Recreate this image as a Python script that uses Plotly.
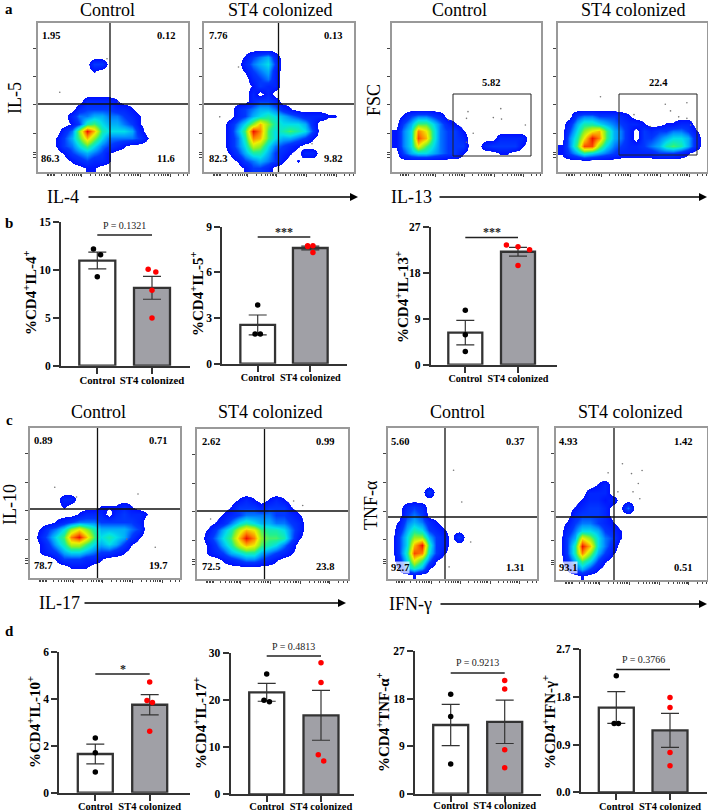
import plotly.graph_objects as go

FONT = "Liberation Serif"
W, H = 708, 812

# ---------- bar chart data ----------
categories = ["Control", "ST4 colonized"]
b1_means, b1_sem = [11.0, 8.15], [0.87, 1.2]
b1_ctrl, b1_st4 = [12.2, 11.6, 9.3], [10.1, 9.8, 7.9, 5.0]
b2_means, b2_sem = [2.55, 7.6], [0.65, 0.12]
b2_ctrl, b2_st4 = [3.85, 1.95, 1.95], [7.75, 7.75, 7.7, 7.3]
b3_means, b3_sem = [6.3, 22.2], [2.4, 0.85]
b3_ctrl, b3_st4 = [10.7, 5.9, 2.6], [23.5, 23.2, 22.6, 19.5]
d1_means, d1_sem = [1.65, 3.75], [0.42, 0.43]
d1_ctrl, d1_st4 = [2.33, 1.7, 0.88], [4.72, 3.93, 3.85, 2.62]
d2_means, d2_sem = [21.7, 16.8], [1.9, 5.3]
d2_ctrl, d2_st4 = [25.6, 20.0, 19.7], [28.0, 23.8, 8.4, 7.1]
d3_means, d3_sem = [13.0, 13.6], [3.9, 4.1]
d3_ctrl, d3_st4 = [18.8, 14.6, 5.6], [21.4, 19.8, 8.3, 4.9]
d4_means, d4_sem = [1.6, 1.17], [0.3, 0.32]
d4_ctrl, d4_st4 = [2.2, 1.3, 1.3], [1.79, 1.6, 0.75, 0.5]

# ---------- flow plot density, hex digit per cell, rows from the top ----------
a1_density = ["", "", "", "", "", "00000003300000000000", "00000001", "", "", "",
              "000000222210", "00000233332210", "00002445544321", "00001378655431000000",
              "000249fc766652", "001358c96444431", "001346864321", "0001345431", "00001232210", "00000011"]
a2_density = ["", "", "", "", "00000134520", "00000245630", "00000134520", "00000023420", "00000013220",
              "00000020200", "00000023320", "00002345542100", "000023567654322211", "0002469c9766652",
              "000258fd8678763", "000247dc8655431", "000246a964321", "000135775321022",
              "00001345431010", "000001332"]
a3_density = ["", "", "", "", "", "", "", "", "", "", "", "", "0134432", "035886421", "146db74331",
              "146ec7433200002222", "146b86433300233331", "0356654331000011", "", ""]
a4_density = ["", "", "", "", "", "", "", "", "", "", "", "", "0034433321", "025776543221001122",
              "0369bc8542032334431", "047bfd8542033456652", "148ee96432234578752",
              "135765432222233321", "", ""]
c1_density = ["", "", "", "", "", "", "", "", "", "000022", "00001000011121", "0000001222023221",
              "000123444333332", "013469b97555543", "02468dfc8676531", "01357aa8656531",
              "0123566543321", "0001333221", "00000111", ""]
c2_density = ["", "", "", "", "", "", "", "", "", "000001210121", "0000133323331", "00012344443321",
              "00124676554432", "01357acb877642", "02468cfd988741", "01357acb87642",
              "0123567754321", "00012344321", "", ""]
c3_density = ["", "", "", "", "", "", "", "", "000003", "", "00232", "00343", "0145421",
              "02576321", "0369953203", "036cf732", "037ed631", "026b841", "015751", "0001"]
c4_density = ["", "", "", "", "", "", "", "0000012", "0000222", "00012212", "0012332004", "0023332",
              "01344321", "024665321", "035b96431", "037fc642", "037d9531", "0258631", "013531", "0001"]

# sparse single events outside the dense areas (column, row)
a1_events = [(9.2, 4.8), (2.9, 9.3), (10.7, 10.6)]
a2_events = [(4.6, 5.9), (2.1, 12.6), (14.4, 16.2)]
a3_events = [(10.2, 11.9), (10, 12.8), (14.6, 11.5), (13.6, 12.7), (14.7, 12.9), (10.9, 14.8), (10, 16), (7.6, 13), (17.9, 13.7)]
a4_events = [(5.7, 9.9), (14.4, 10.9), (17.3, 10.7), (15.1, 11.8), (16.2, 12.6), (17.8, 13.7), (12.4, 13.9), (10.2, 12.3), (17.3, 12.8)]
c1_events = [(3.3, 7.9), (6.2, 9.2), (14.4, 8.8), (16.7, 15.9), (12.9, 14.8)]
c2_events = [(12.8, 9.6), (14, 10.2), (1.8, 12)]
c3_events = [(8.8, 5.6), (9.9, 9.8), (11.1, 15.1), (8.2, 18.4)]
c4_events = [(8.8, 4.7), (10, 6), (11.4, 5.6), (10.9, 7.3), (10.2, 8.4), (11.1, 9.3), (6.9, 5.9), (8.2, 8.4)]

density_scale = [[0, "#ffffff"], [0.05, "#ffffff"], [0.053, "#0010ff"], [0.2, "#0038ff"],
                 [0.3, "#0098ff"], [0.4, "#00e0e8"], [0.5, "#20f090"], [0.6, "#90f020"],
                 [0.73, "#f0f000"], [0.87, "#ff8000"], [1, "#f01000"]]

fig = go.Figure()
layout = dict(width=W, height=H, autosize=False, margin=dict(l=0, r=0, t=0, b=0),
              paper_bgcolor="white", plot_bgcolor="white", showlegend=False,
              font=dict(family=FONT, color="black"), hovermode=False)
annotations, shapes = [], []
axis_n = [0]


def text(px, py, s, size=18, bold=False, angle=0, bg=None):
    annotations.append(dict(x=px / W, y=1 - py / H, xref="paper", yref="paper", showarrow=False,
                            text=f"<b>{s}</b>" if bold else s, textangle=angle, xanchor="center", yanchor="middle",
                            font=dict(family=FONT, size=size, color="black"), bgcolor=bg, borderpad=0))


def arrow(x0, x1, py):
    annotations.append(dict(x=x1 / W, y=1 - py / H, ax=x0 - x1, ay=0, xref="paper", yref="paper",
                            axref="pixel", ayref="pixel", text="", showarrow=True, arrowhead=2,
                            arrowsize=1, arrowwidth=1.6, arrowcolor="black"))


def new_axes(x0, x1, y0, y1):
    axis_n[0] += 1
    n = axis_n[0]
    sfx = "" if n == 1 else str(n)
    xa, ya = f"xaxis{sfx}", f"yaxis{sfx}"
    layout[xa] = dict(domain=[x0 / W, x1 / W], anchor=f"y{sfx}", automargin=False)
    layout[ya] = dict(domain=[1 - y1 / H, 1 - y0 / H], anchor=f"x{sfx}", automargin=False)
    return f"x{sfx}", f"y{sfx}", xa, ya


x_major = [5.8, 9.7, 13.7, 17.6]
x_minor = [v + d for v in [1.9, 5.8, 9.7, 13.7, 17.6] for d in (1.17, 1.86, 2.35, 2.72, 3.03, 3.29, 3.52, 3.72)
           if v + d < 20] + [1.2, 1.4, 1.6, 1.8, 2.0, 2.2]
y_major = [3.4, 7.2, 11.0, 14.8, 17.4, 17.7, 18.0]


def flow(density, events, box, cross=None, gate=None, labels=()):
    x0, x1, y0, y1 = box
    xr, yr, xa, ya = new_axes(x0, x1, y0, y1)
    z = [[int(c, 16) for c in row.ljust(20, "0")[:20]] for row in density]
    fig.add_trace(go.Heatmap(z=z, x=[i + 0.5 for i in range(20)], y=[i + 0.5 for i in range(20)],
                             xaxis=xr, yaxis=yr, zmin=0, zmax=15, zsmooth="best",
                             colorscale=density_scale, showscale=False, hoverinfo="skip"))
    fig.add_trace(go.Scatter(x=[e[0] for e in events], y=[e[1] for e in events], mode="markers",
                             xaxis=xr, yaxis=yr, marker=dict(color="#777777", size=1.6), hoverinfo="skip"))
    common = dict(showgrid=False, zeroline=False, showline=True, mirror=True, linecolor="#999999",
                  linewidth=1.5, showticklabels=False, ticks="outside", ticklen=3, tickcolor="#444444",
                  tickwidth=1)
    layout[xa].update(common, range=[0, 20], tickmode="array", tickvals=x_major,
                      minor=dict(tickmode="array", tickvals=x_minor, ticks="outside", ticklen=2,
                                 tickcolor="#444444", tickwidth=1))
    layout[ya].update(common, range=[20, 0], tickmode="array", tickvals=y_major)
    if cross:
        cx = (cross[0] - x0) / (x1 - x0) * 20
        cy = (cross[1] - y0) / (y1 - y0) * 20
        line = dict(color="#111111", width=1.3)
        shapes.append(dict(type="line", xref=xr, yref=yr, x0=cx, x1=cx, y0=0, y1=20, line=line))
        shapes.append(dict(type="line", xref=xr, yref=yr, x0=0, x1=20, y0=cy, y1=cy, line=line))
    if gate:
        gx0, gx1, gy0, gy1 = gate
        shapes.append(dict(type="rect", xref=xr, yref=yr,
                           x0=(gx0 - x0) / (x1 - x0) * 20, x1=(gx1 - x0) / (x1 - x0) * 20,
                           y0=(gy0 - y0) / (y1 - y0) * 20, y1=(gy1 - y0) / (y1 - y0) * 20,
                           line=dict(color="#222222", width=1)))
    for lx, ly, s, *bg in labels:
        text(lx, ly, s, size=10.5, bold=True, bg=bg[0] if bg else None)


def bar_panel(means, sem, ctrl, st4, ctrl_dx, st4_dx, ax_x, ax_end, y_zero, y_top, c0, c1, bar_w,
              top, ticks, ticktext, level, sig, sig_big, title, title_xy, cat_size):
    xr, yr, xa, ya = new_axes(ax_x, ax_end, y_top, y_zero)
    unit = c1 - c0
    fig.add_trace(go.Bar(x=[0, 1], y=means, width=bar_w / unit, xaxis=xr, yaxis=yr,
                         marker=dict(color=["#ffffff", "#a0a0a6"], line=dict(color="#333333", width=2.3)),
                         error_y=dict(type="data", array=sem, color="#333333", thickness=1.2, width=9),
                         hoverinfo="skip"))
    fig.add_trace(go.Scatter(x=ctrl_dx, y=ctrl, mode="markers", xaxis=xr, yaxis=yr, cliponaxis=False,
                             marker=dict(color="black", size=5.5), hoverinfo="skip"))
    fig.add_trace(go.Scatter(x=[1 + d for d in st4_dx], y=st4, mode="markers", xaxis=xr, yaxis=yr, cliponaxis=False,
                             marker=dict(color="#ff0000", size=5.5), hoverinfo="skip"))
    layout[xa].update(range=[(ax_x - c0) / unit, (ax_end - c0) / unit], tickmode="array", tickvals=[0, 1],
                      ticktext=[f"<b>{c}</b>" for c in categories], tickangle=0, showgrid=False, zeroline=False,
                      showline=True, linecolor="#333333", linewidth=1.8, ticks="outside", ticklen=6, tickwidth=1.5,
                      tickcolor="#333333", ticklabelstandoff=-5 if y_zero > 793 else -3,
                      tickfont=dict(family=FONT, size=cat_size, color="black"))
    layout[ya].update(range=[0, top], tickmode="array", tickvals=ticks,
                      ticktext=[f"<b>{t}</b>" for t in ticktext], showgrid=False, zeroline=False,
                      showline=True, linecolor="#333333", linewidth=1.8, ticks="outside", ticklen=6, tickwidth=1.5,
                      tickcolor="#333333", tickfont=dict(family=FONT, size=11.5, color="black"))
    shapes.append(dict(type="line", xref=xr, yref=yr, x0=0, x1=1, y0=level, y1=level,
                       line=dict(color="#222222", width=1.5)))
    annotations.append(dict(x=0.5, y=level, xref=xr, yref=yr, showarrow=False, yshift=5 if sig_big else 10,
                            text=f"<b>{sig}</b>" if sig_big else sig,
                            font=dict(family=FONT, size=12 if sig_big else 10, color="#222222")))
    text(title_xy[0], title_xy[1], title, size=15, bold=True, angle=-90)


# ---------- panel a ----------
flow(a1_density, a1_events, (38, 188, 23, 172), cross=(110, 104),
     labels=[(51, 35, "1.95"), (166, 35, "0.12"), (50, 159, "86.3"), (166, 159, "11.6")])
flow(a2_density, a2_events, (204, 354, 23, 172), cross=(278.5, 104),
     labels=[(218, 35, "7.76"), (333, 35, "0.13"), (218, 159, "82.3"), (333, 159, "9.82")])
flow(a3_density, a3_events, (392, 541, 23, 172), gate=(453, 531, 94, 156), labels=[(491, 83, "5.82")])
flow(a4_density, a4_events, (558, 707, 23, 172), gate=(619, 697, 94, 155), labels=[(658, 83, "22.4")])
for px, s in [(107, "Control"), (280, "ST4 colonized"), (459, "Control"), (633, "ST4 colonized")]:
    text(px, 10, s)
text(15, 98, "IL-5", angle=-90)
text(374, 100, "FSC", angle=-90)
text(63, 197, "IL-4")
text(411, 197, "IL-13")
arrow(87, 358, 197)
arrow(438, 707, 197)

# ---------- panel b ----------
bar_panel(b1_means, b1_sem, b1_ctrl, b1_st4, [-0.07, 0.06, 0], [-0.07, 0.07, 0, 0],
          61, 190, 365.7, 222.3, 97.3, 152, 36, 15, [0, 5, 10, 15], ["0", "5", "10", "15"],
          13.67, "P = 0.1321", False, "%CD4<sup>+</sup>IL-4<sup>+</sup>", (30, 293), 10.8)
bar_panel(b2_means, b2_sem, b2_ctrl, b2_st4, [0, -0.05, 0.05], [-0.05, 0.05, -0.05, 0.05],
          222.3, 346.7, 363.7, 226.7, 257.7, 310.3, 34.7, 9, [0, 3, 6, 9], ["0", "3", "6", "9"],
          8.32, "***", True, "%CD4<sup>+</sup>IL-5<sup>+</sup>", (197, 294), 10.2)
bar_panel(b3_means, b3_sem, b3_ctrl, b3_st4, [0, 0, 0], [-0.22, 0, 0.22, 0],
          430.7, 556.7, 364.7, 227.3, 465.3, 518, 34, 27, [0, 9, 18, 27], ["0", "9", "18", "27"],
          25.0, "***", True, "%CD4<sup>+</sup>IL-13<sup>+</sup>", (402, 297), 10.2)

# ---------- panel c ----------
flow(c1_density, c1_events, (30, 180, 428, 578), cross=(97.5, 509),
     labels=[(43, 440, "0.89"), (158, 440, "0.71"), (43, 565, "78.7"), (158, 565, "19.7")])
flow(c2_density, c2_events, (197, 348, 429, 579), cross=(264.5, 511),
     labels=[(211, 441, "2.62"), (325, 441, "0.99"), (211, 566, "72.5"), (325, 566, "23.8")])
flow(c3_density, c3_events, (388, 537, 428, 579), cross=(445, 517),
     labels=[(400, 441, "5.60"), (515, 441, "0.37"), (400, 567, "92.7", "rgba(255,255,255,0.7)"), (515, 567, "1.31")])
flow(c4_density, c4_events, (556, 707, 428, 580), cross=(614, 517),
     labels=[(568, 441, "4.93"), (683, 441, "1.42"), (568, 567, "93.1", "rgba(255,255,255,0.7)"), (683, 567, "0.51")])
for px, s in [(98, "Control"), (270, "ST4 colonized"), (457, "Control"), (630, "ST4 colonized")]:
    text(px, 412, s)
text(10, 505, "IL-10", angle=-90)
text(371, 505, "TNF-α", angle=-90)
text(59, 603, "IL-17")
text(410, 604, "IFN-γ")
arrow(83, 346, 603)
arrow(439, 707, 604)

# ---------- panel d ----------
bar_panel(d1_means, d1_sem, d1_ctrl, d1_st4, [0, 0, 0], [0, -0.05, 0.05, 0],
          59.3, 190, 792.7, 652, 95.3, 149.7, 35, 6, [0, 2, 4, 6], ["0", "2", "4", "6"],
          5.06, "*", True, "%CD4<sup>+</sup>IL-10<sup>+</sup>", (34, 722), 10.5)
bar_panel(d2_means, d2_sem, d2_ctrl, d2_st4, [0, -0.05, 0.05], [0, 0, -0.05, 0.05],
          230.5, 354, 794.3, 653.3, 266.7, 321, 35, 30, [0, 10, 20, 30], ["0", "10", "20", "30"],
          29.4, "P = 0.4813", False, "%CD4<sup>+</sup>IL-17<sup>+</sup>", (200, 723), 10.5)
bar_panel(d3_means, d3_sem, d3_ctrl, d3_st4, [0, 0, 0], [0, 0, 0, 0],
          415, 540.7, 793.7, 651, 450.7, 504.7, 35, 27, [0, 9, 18, 27], ["0", "9", "18", "27"],
          22.84, "P = 0.9213", False, "%CD4<sup>+</sup>TNF-α<sup>+</sup>", (383, 722), 10.5)
bar_panel(d4_means, d4_sem, d4_ctrl, d4_st4, [0, -0.04, 0.04], [0, 0, 0, 0],
          580.7, 706.7, 792.3, 649.3, 616.3, 670, 35, 2.7, [0, 0.9, 1.8, 2.7], ["0.0", "0.9", "1.8", "2.7"],
          2.32, "P = 0.3766", False, "%CD4<sup>+</sup>IFN-γ<sup>+</sup>", (549, 722), 10.4)

# ---------- panel letters ----------
for py, s in [(9, "a"), (223, "b"), (420, "c"), (631, "d")]:
    text(9, py, s, size=15, bold=True)

layout["annotations"] = annotations
layout["shapes"] = shapes
fig.update_layout(**layout)
fig.write_html("out.html", config={"displayModeBar": False},
               post_script="document.body.style.margin='0';")
